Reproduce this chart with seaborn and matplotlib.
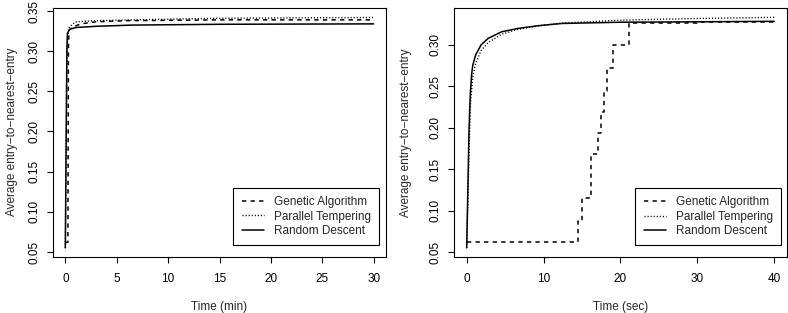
import matplotlib
matplotlib.use("Agg")
import matplotlib.pyplot as plt
import seaborn as sns
import numpy as np

# ---- data: left panel (minutes) ----
ga_min_t = [0, 0.25, 0.27, 0.30, 0.35, 0.7, 1.5, 3, 6, 15, 30]
ga_min_v = [0.062, 0.062, 0.17, 0.30, 0.326, 0.330, 0.334, 0.3366, 0.338, 0.339, 0.339]
pt_min_t = [0, 0.08, 0.15, 0.22, 0.4, 1.0, 3, 6.5, 15, 30]
pt_min_v = [0.055, 0.18, 0.29, 0.318, 0.330, 0.3366, 0.338, 0.339, 0.341, 0.342]
rd_min_t = [0, 0.08, 0.15, 0.2, 0.4, 1.0, 3, 6.5, 15, 30]
rd_min_v = [0.055, 0.19, 0.30, 0.322, 0.327, 0.3295, 0.331, 0.3325, 0.3335, 0.334]

# ---- data: right panel (seconds) ----
ga_sec_t = [0, 14.53, 15.06, 16.2, 17.1, 17.5, 17.9, 18.3, 19.0, 21.1, 24, 30, 40]
ga_sec_v = [0.0624, 0.0878, 0.1148, 0.168, 0.194, 0.2195, 0.245, 0.272, 0.300,
            0.326, 0.327, 0.3275, 0.328]
pt_sec_t = [0, 0.15, 0.3, 0.5, 0.8, 1.17, 1.86, 2.8, 4.56, 6.7, 9.3, 12.4, 20, 30, 40]
pt_sec_v = [0.055, 0.11, 0.17, 0.23, 0.262, 0.278, 0.293, 0.303, 0.313, 0.319,
            0.323, 0.3265, 0.330, 0.332, 0.3334]
rd_sec_t = [0, 0.15, 0.3, 0.4, 0.5, 0.65, 0.8, 1.17, 1.86, 2.8, 4.56, 6.7, 9.3,
            12.4, 20, 30, 40]
rd_sec_v = [0.055, 0.125, 0.195, 0.225, 0.245, 0.265, 0.276, 0.288, 0.300, 0.308,
            0.316, 0.320, 0.3233, 0.326, 0.3275, 0.328, 0.3286]

labels = ["Genetic Algorithm", "Parallel Tempering", "Random Descent"]
x_titles = ["Time (min)", "Time (sec)"]
y_title = "Average entry\u2212to\u2212nearest\u2212entry"
left_xticks = [0, 5, 10, 15, 20, 25, 30]
right_xticks = [0, 10, 20, 30, 40]
left_yticks = [0.05, 0.10, 0.15, 0.20, 0.25, 0.30, 0.35]
right_yticks = [0.05, 0.10, 0.15, 0.20, 0.25, 0.30]

sns.set_style("ticks")
plt.rcParams['font.family'] = ['Liberation Sans', 'DejaVu Sans']
FS = 8.5

fig = plt.figure(figsize=(7.88, 3.13), dpi=100)
W, H = 788, 313

def axes_px(x0, x1, ytop, ybot):
    return fig.add_axes([x0 / W, 1 - ybot / H, (x1 - x0) / W, (ybot - ytop) / H])

axL = axes_px(53, 386, 7.5, 257)
axR = axes_px(454, 786.5, 8.3, 257)

dash = (0, (2.8, 2.8))
dot = (0, (0.8, 1.4))

def draw(ax, gt, gv, pt, pv, rt, rv, steps):
    kw = dict(color="black", estimator=None, sort=False, ax=ax)
    sns.lineplot(x=gt, y=gv, linestyle=dash, lw=1.1, label=labels[0],
                 drawstyle="steps-post" if steps else "default", **kw)
    sns.lineplot(x=pt, y=pv, linestyle=dot, lw=1.0, label=labels[1], **kw)
    sns.lineplot(x=rt, y=rv, linestyle="-", lw=1.1, label=labels[2], **kw)

draw(axL, ga_min_t, ga_min_v, pt_min_t, pt_min_v, rd_min_t, rd_min_v, False)
draw(axR, ga_sec_t, ga_sec_v, pt_sec_t, pt_sec_v, rd_sec_t, rd_sec_v, True)

axL.set_xlim(-1.2, 31.2)
axL.set_ylim(0.0437, 0.3544)
axR.set_xlim(-1.65, 41.6)
axR.set_ylim(0.044, 0.3443)

for ax, xt, yt, xl, lx in [(axL, left_xticks, left_yticks, x_titles[0], 0.979),
                           (axR, right_xticks, right_yticks, x_titles[1], 0.983)]:
    ax.set_xticks(xt)
    ax.set_yticks(yt)
    ax.set_xticklabels([str(v) for v in xt], fontsize=FS)
    ax.set_yticklabels(["%.2f" % v for v in yt], fontsize=FS, rotation=90, va="center")
    ax.tick_params(axis="both", direction="out", length=4.3, width=0.8, colors="black")
    ax.tick_params(axis="x", pad=7.5)
    ax.tick_params(axis="y", pad=5.0)
    for s in ax.spines.values():
        s.set_visible(True)
        s.set_color("black")
        s.set_linewidth(0.8)
    ax.set_xlabel(xl, fontsize=FS)
    ax.set_ylabel(y_title, fontsize=FS)
    ax.xaxis.set_label_coords(0.5, -0.177)
    ax.set_facecolor("white")
    leg = ax.legend(loc="upper right", bbox_to_anchor=(lx, 0.2766), borderaxespad=0,
                    fontsize=FS, frameon=True, fancybox=False, framealpha=1,
                    edgecolor="black", handlelength=1.86, handletextpad=0.85,
                    labelspacing=0.2, borderpad=0.7)
    leg.get_frame().set_linewidth(0.8)

axL.yaxis.set_label_coords((18 - 53) / 333, 0.5)
axR.yaxis.set_label_coords((18 + 394 - 454) / 332.5, 0.5)

fig.savefig("out.png", dpi=100, facecolor="white")
